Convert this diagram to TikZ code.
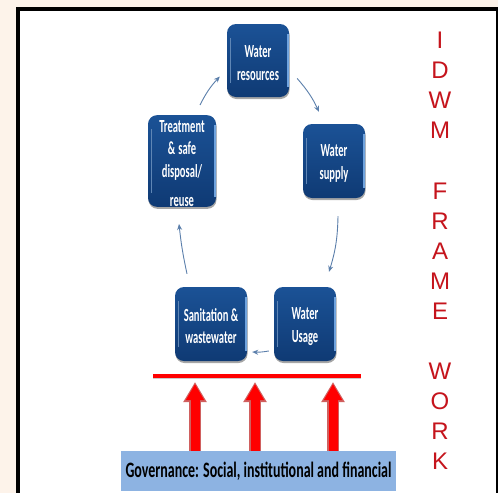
\documentclass[tikz,border=0pt]{standalone}
\usepackage{fontspec}
\setmainfont{Liberation Sans}
\newfontfamily\boxfont[FakeStretch=0.57,BoldFeatures={FakeStretch=0.57}]{Carlito}
\newfontfamily\govfont[FakeStretch=0.635,BoldFeatures={FakeStretch=0.635}]{Carlito}
\newcommand\firstln{\rule{0pt}{17pt}}
\usetikzlibrary{arrows.meta,calc,shadows}
\definecolor{cream}{HTML}{FDF3EA}
\definecolor{boxtop}{HTML}{1B5296}
\definecolor{boxbot}{HTML}{0F3A74}
\definecolor{conn}{HTML}{5B7FAB}
\definecolor{govblue}{HTML}{8DB3E2}
\definecolor{dred}{HTML}{C5141C}
\definecolor{aedge}{HTML}{D0605F}
\definecolor{hilite}{HTML}{6FA3DE}
\tikzset{
  x=1pt,y=-1pt,
  bluebox/.style={rounded corners=9pt,top color=boxtop,bottom color=boxbot,
    text=white,align=center,inner sep=0pt,
    font=\boxfont\bfseries\fontsize{18.5}{22.5}\selectfont,
    drop shadow={shadow xshift=0.5pt,shadow yshift=-2pt,opacity=.35,fill=black},
    path picture={
      \draw[line width=2pt,color=hilite]
        ([xshift=-1pt,yshift=-10pt]path picture bounding box.north east) --
        ([xshift=-1pt,yshift=10pt]path picture bounding box.south east);
      \draw[line width=1pt,color=boxtop!70!white]
        ([xshift=3.5pt,yshift=-14pt]path picture bounding box.north west) --
        ([xshift=3.5pt,yshift=14pt]path picture bounding box.south west);
    }},
  flow/.style={draw=conn,line width=0.9pt,-{Stealth[length=6pt,width=5pt]}},
  govarrow/.style={line width=12pt,aedge,-{Triangle[length=20pt,width=22pt]}},
  govcore/.style={line width=9pt,red,shorten >=2pt,-{Triangle[length=16pt,width=17pt]}},
}
\begin{document}
\begin{tikzpicture}
\useasboundingbox (0,0) rectangle (498,493);
\fill[cream] (0,0) rectangle (498,493);
\fill[black] (16,7) rectangle (497.5,493);
\fill[white] (20,11) rectangle (496,493);

\node[bluebox,minimum width=62pt,minimum height=73pt] (wr) at (258,60.5) {\firstln Water\\resources};
\node[bluebox,minimum width=68pt,minimum height=90pt] (tr) at (182,161) {\firstln Treatment\\\&\,safe\\disposal/\\[7pt]reuse};
\node[bluebox,minimum width=62pt,minimum height=74pt] (ws) at (334,161) {\firstln Water\\supply};
\node[bluebox,minimum width=72pt,minimum height=74pt] (sa) at (211,324) {\firstln Sanitation \&\\wastewater};
\node[bluebox,minimum width=62pt,minimum height=74pt] (wu) at (305,324) {\firstln Water\\Usage};

\draw[flow] ($(wr.east)+(8,18)$) to[bend left=8] ($(ws.north)+(-15,-12)$);
\draw[flow] ($(ws.south)+(4,18)$) to[bend left=8] ($(wu.north)+(24,-15)$);
\draw[flow] ($(wu.west)+(-5,27)$) to[bend left=6] ($(sa.east)+(5,28)$);
\draw[flow] ($(sa.north)+(-24,-13)$) to[bend left=3] ($(tr.south)+(-3,17)$);
\draw[flow] ($(tr.north)+(18,-10)$) to[bend left=8] ($(wr.west)+(-7,16)$);

\coordinate (rl) at (153,376);
\coordinate (rr) at (361,376);
\draw[black!45,opacity=.45,line width=2.5pt] (153,378) -- (361,378);
\draw[red,line width=3.4pt] (rl) -- (rr);

\coordinate (t1) at (195,382);
\coordinate (t2) at (255,382);
\coordinate (t3) at (333,382);

\node[fill=govblue,minimum width=275pt,align=center,minimum height=40pt,inner sep=0pt,
  font=\govfont\bfseries\fontsize{22}{24}\selectfont] (gov) at (258.5,471) {Governance: Social, institutional and financial};

\foreach \t in {t1,t2,t3}{
  \draw[govarrow] (gov.north -| \t) -- (\t);
  \draw[govcore] (gov.north -| \t) -- (\t);
}

\node[text=dred,align=center,font=\fontsize{24}{30.07}\selectfont,anchor=north,inner sep=0pt] (title) at (440,32)
  {I\\D\\W\\M\\[30.07pt]F\\R\\A\\M\\E\\[30.07pt]W\\O\\R\\K};
\end{tikzpicture}
\end{document}
